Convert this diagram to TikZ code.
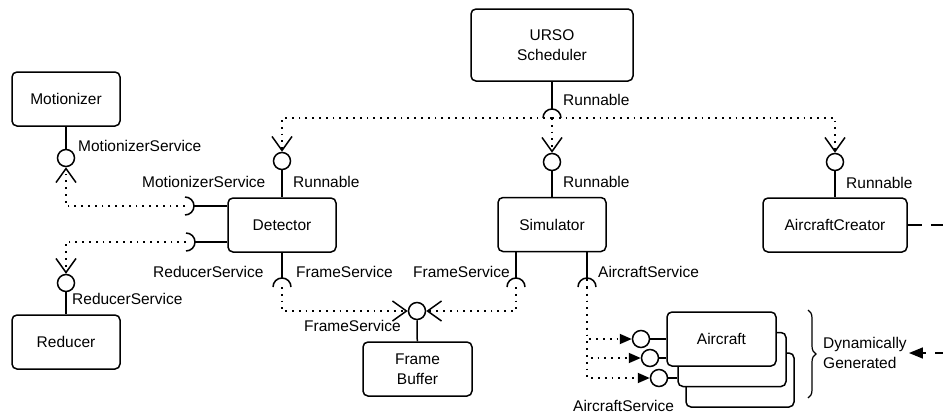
\documentclass[tikz,border=0pt]{standalone}
\usepackage{fontspec}
\setmainfont{Liberation Sans}
\usetikzlibrary{positioning,arrows.meta,decorations.pathreplacing}

\begin{document}
\begin{tikzpicture}[x=1pt, y=-1pt,
    every node/.style={font=\fontsize{15.5pt}{20pt}\selectfont},
    comp/.style={draw, rounded corners=5pt, line width=1.5pt, fill=white, align=center, minimum width=108pt, minimum height=54pt, inner sep=2pt},
    ball/.style={draw, circle, line width=1.5pt, fill=white, minimum size=17pt, inner sep=0pt},
    lbl/.style={anchor=west, inner sep=0pt},
    wire/.style={line width=1.5pt},
    dots/.style={line width=1.8pt, dash pattern=on 1.8pt off 5pt},
    req/.style={dots, -{Straight Barb[length=14pt, width=20pt, line width=1.5pt]}},
    spawn/.style={dots, -{Triangle[length=12pt, width=10pt]}}
]
\fill[white] (0,0) rectangle (943,418);
\useasboundingbox (0,0) rectangle (943,418);

% Components
\node[comp, minimum width=162pt, minimum height=72pt] (sched) at (552,45) {URSO\\Scheduler};
\node[comp] (motion) at (66,99) {Motionizer};
\node[comp] (detect) at (282,225) {Detector};
\node[comp] (simul) at (552,224.5) {Simulator};
\node[comp, minimum width=144pt] (creator) at (835,225) {AircraftCreator};
\node[comp] (reducer) at (66,342) {Reducer};
\node[comp, minimum width=109pt] (fbuf) at (417.5,369) {Frame\\Buffer};
\node[comp] (air3) at (740,380) {};
\node[comp] (air2) at (732,359.5) {};
\node[comp, minimum width=109pt] (air1) at (721.5,339) {Aircraft};

% Provided interfaces
\node[ball] (motBall) at (66,158) {};
\node[ball] (detBall) at (282,161) {};
\node[ball] (simBall) at (552,162) {};
\node[ball] (creBall) at (835,162) {};
\node[ball] (redBall) at (66,283) {};
\node[ball] (fbBall) at (417,311) {};
\node[ball] (airBall1) at (641,339) {};
\node[ball] (airBall2) at (650,358) {};
\node[ball] (airBall3) at (659,378) {};

\draw[wire] (motion) -- (motBall);
\draw[wire] (detBall) -- (detect);
\draw[wire] (simBall) -- (simul);
\draw[wire] (creBall) -- (creator);
\draw[wire] (redBall) -- (reducer);
\draw[wire] (fbBall) -- (fbuf);
\draw[wire] (airBall1.east) -- (airBall1 -| air1.west);
\draw[wire] (airBall2.east) -- (airBall2 -| air1.west);
\draw[wire] (airBall3.east) -- (airBall3 -| air2.west);

% Required interfaces (sockets)
\coordinate (schSock) at (552,118);
\coordinate (motSock) at (185,206);
\coordinate (redSock) at (186,242);
\coordinate (detSock) at (282,287);
\coordinate (simSockF) at (516,287);
\coordinate (simSockA) at (587,287);

\draw[wire] (sched) -- ([yshift=9pt]schSock);
\draw[wire] ([xshift=-9pt]schSock) arc[start angle=180, end angle=0, radius=9pt];
\draw[wire] (detect.west |- motSock) -- ([xshift=9pt]motSock);
\draw[wire] ([yshift=9pt]motSock) arc[start angle=90, end angle=-90, radius=9pt];
\draw[wire] (detect.west |- redSock) -- ([xshift=9pt]redSock);
\draw[wire] ([yshift=9pt]redSock) arc[start angle=90, end angle=-90, radius=9pt];
\draw[wire] (detect) -- ([yshift=9pt]detSock);
\draw[wire] ([xshift=-9pt]detSock) arc[start angle=180, end angle=0, radius=9pt];
\draw[wire] (simul.south -| simSockF) -- ([yshift=9pt]simSockF);
\draw[wire] ([xshift=-9pt]simSockF) arc[start angle=180, end angle=0, radius=9pt];
\draw[wire] (simul.south -| simSockA) -- ([yshift=9pt]simSockA);
\draw[dots] (simul.south -| simSockA) -- (simSockA);
\draw[wire] ([xshift=-9pt]simSockA) arc[start angle=180, end angle=0, radius=9pt];

% Dependencies
\draw[req] (schSock) -| (detBall.north);
\draw[req] (schSock) -| (creBall.north);
\draw[req] (schSock) -- (simBall.north);
\draw[req] (motSock) -| (motBall.south);
\draw[req] (redSock) -| (redBall.north);
\draw[req] (detSock) |- (fbBall.west);
\draw[req] (simSockF) |- (fbBall.east);
\draw[spawn] (simSockA) |- (airBall1.west);
\draw[spawn] (simSockA) |- (airBall2.west);
\draw[spawn] (simSockA) |- (airBall3.west);

% Interface labels
\node[lbl] (lSchRun) at (563,100) {Runnable};
\node[lbl] (lDetRun) at (293,182) {Runnable};
\node[lbl] (lSimRun) at (563,182) {Runnable};
\node[lbl] (lCreRun) at (846,183) {Runnable};
\node[lbl] (lMotSvc) at (78,146) {MotionizerService};
\node[lbl] (lDetMot) at (142,182) {MotionizerService};
\node[lbl] (lDetRed) at (153,272) {ReducerService};
\node[lbl] (lRedSvc) at (72,299) {ReducerService};
\node[lbl] (lDetFrm) at (296,272) {FrameService};
\node[lbl] (lSimFrm) at (413,272) {FrameService};
\node[lbl] (lFbSvc) at (304,326) {FrameService};
\node[lbl] (lSimAir) at (598,272) {AircraftService};
\node[lbl] (lAirSvc) at (573,406) {AircraftService};

% Dynamically generated instances
\draw[line width=1.2pt, decorate, decoration={brace, amplitude=8pt}] (808,310) -- (808,398);
\node[anchor=west, align=left, inner sep=2pt] (dyn) at (821,353) {Dynamically\\Generated};
\draw[wire, dash pattern=on 14pt off 9pt, -{Triangle[length=14pt, width=11pt]}] (creator.east) -- ++(60,0) |- (dyn.east);
\end{tikzpicture}
\end{document}
